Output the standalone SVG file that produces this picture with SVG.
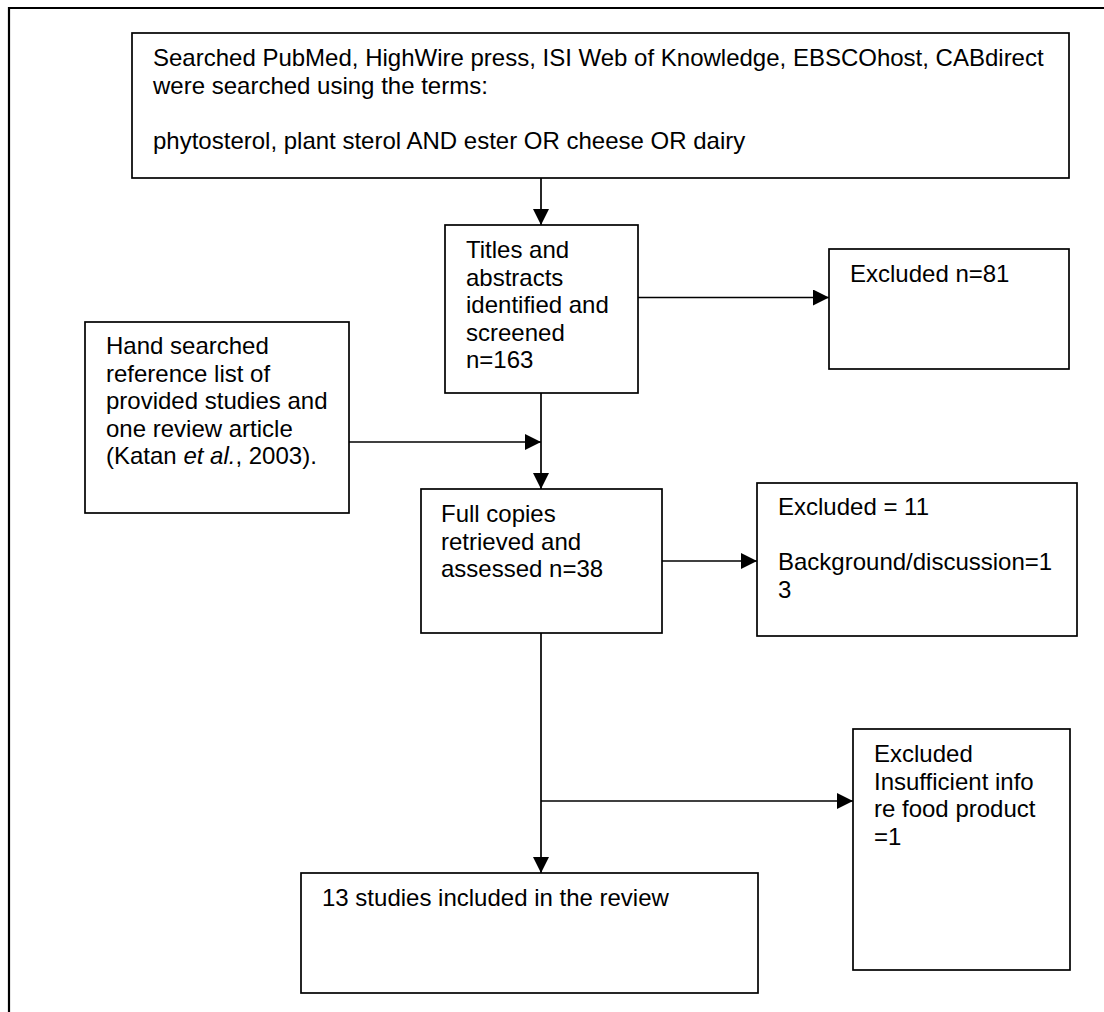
<svg xmlns="http://www.w3.org/2000/svg" width="1104" height="1012" viewBox="0 0 1104 1012">
<style>
.box{fill:#fff;stroke:#000;stroke-width:1.7}
.t{font-family:"Liberation Sans",Arial,sans-serif;font-size:24px;fill:#000}
.c{fill:none;stroke:#000;stroke-width:1.7}
</style>
<defs>
<marker id="ah" markerUnits="userSpaceOnUse" markerWidth="16" markerHeight="16" refX="16" refY="8" orient="auto">
<path d="M0,0 L16,8 L0,16 Z" fill="#000"/>
</marker>
</defs>
<rect width="1104" height="1012" fill="#fff"/>
<path d="M9,1012 V8 H1104" fill="none" stroke="#000" stroke-width="2.2"/>
<g id="connectors">
<path class="c" d="M541,178 V225" marker-end="url(#ah)"/>
<path class="c" d="M638,297.5 H829" marker-end="url(#ah)"/>
<path class="c" d="M541,393 V489" marker-end="url(#ah)"/>
<path class="c" d="M349,442 H541" marker-end="url(#ah)"/>
<path class="c" d="M662,561 H757" marker-end="url(#ah)"/>
<path class="c" d="M541,633 V873" marker-end="url(#ah)"/>
<path class="c" d="M541,801 H853" marker-end="url(#ah)"/>
</g>
<g id="search">
<rect class="box" x="132" y="33" width="937" height="145"/>
<text class="t" x="153" y="66">Searched PubMed, HighWire press, ISI Web of Knowledge, EBSCOhost, CABdirect</text>
<text class="t" x="153" y="93.6">were searched using the terms:</text>
<text class="t" x="153" y="148.8">phytosterol, plant sterol AND ester OR cheese OR dairy</text>
</g>
<g id="titles">
<rect class="box" x="445" y="225" width="193" height="168"/>
<text class="t" x="466" y="258">Titles and</text>
<text class="t" x="466" y="285.6">abstracts</text>
<text class="t" x="466" y="313.2">identified and</text>
<text class="t" x="466" y="340.8">screened</text>
<text class="t" x="466" y="368.4">n=163</text>
</g>
<g id="excluded81">
<rect class="box" x="829" y="249" width="240" height="120"/>
<text class="t" x="850" y="282">Excluded n=81</text>
</g>
<g id="hand">
<rect class="box" x="85" y="322" width="264" height="191"/>
<text class="t" x="106" y="354">Hand searched</text>
<text class="t" x="106" y="381.6">reference list of</text>
<text class="t" x="106" y="409.2">provided studies and</text>
<text class="t" x="106" y="436.8">one review article</text>
<text class="t" x="106" y="464.4">(Katan <tspan font-style="italic">et al.</tspan>, 2003).</text>
</g>
<g id="full">
<rect class="box" x="421" y="489" width="241" height="144"/>
<text class="t" x="441" y="522">Full copies</text>
<text class="t" x="441" y="549.6">retrieved and</text>
<text class="t" x="441" y="577.2">assessed n=38</text>
</g>
<g id="excluded11">
<rect class="box" x="757" y="483" width="320" height="153"/>
<text class="t" x="778" y="515">Excluded = 11</text>
<text class="t" x="778" y="570.2">Background/discussion=1</text>
<text class="t" x="778" y="597.8">3</text>
</g>
<g id="insufficient">
<rect class="box" x="853" y="729" width="217" height="241"/>
<text class="t" x="874" y="762">Excluded</text>
<text class="t" x="874" y="789.6">Insufficient info</text>
<text class="t" x="874" y="817.2">re food product</text>
<text class="t" x="874" y="844.8">=1</text>
</g>
<g id="included">
<rect class="box" x="301" y="873" width="457" height="120"/>
<text class="t" x="322" y="906">13 studies included in the review</text>
</g>
</svg>
